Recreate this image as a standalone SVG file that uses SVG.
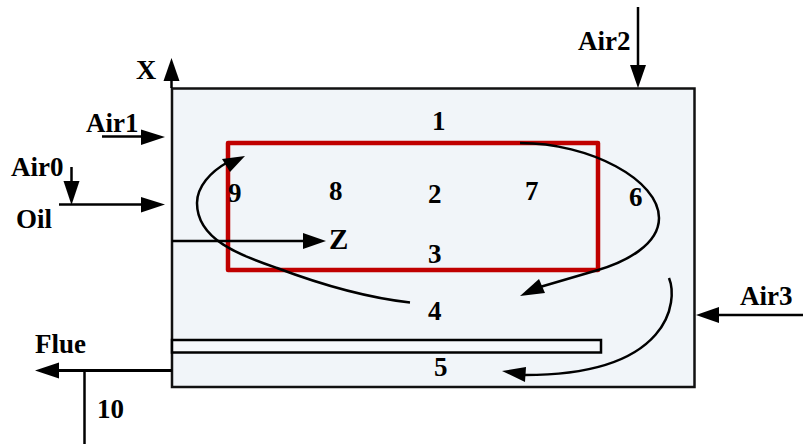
<svg xmlns="http://www.w3.org/2000/svg" width="803" height="444" viewBox="0 0 803 444">
<style>
text{font-family:"Liberation Serif","Times New Roman",serif;font-weight:bold;font-size:27px;fill:#000}
.l{fill:none;stroke:#000;stroke-width:2.500}
.f{fill:#000;stroke:none}
</style>
<rect width="803" height="444" fill="#fff"/>
<g id="furnace"><rect x="172" y="88.500" width="522.500" height="298.500" fill="#f1f5f9" stroke="#111" stroke-width="2.500"/></g>
<g id="tube"><rect x="172" y="340" width="429" height="12.500" fill="#f7f9fb" stroke="#000" stroke-width="2.500"/></g>
<g id="zone"><rect x="228" y="143" width="370" height="127" fill="none" stroke="#c00000" stroke-width="4.500" stroke-linejoin="round"/></g>
<g id="connectors">
<path class="l" d="M171.500 88V70"/><polygon class="f" points="171.500,58 163.500,81 179.500,81"/>
<path class="l" d="M102 136.500H145"/><polygon class="f" points="165,137 141,129.500 141,145"/>
<path class="l" d="M71.500 167V190"/><polygon class="f" points="71.500,205 63.500,181 79.500,181"/>
<path class="l" d="M59 204.500H145"/><polygon class="f" points="165,204.500 141,197 141,212.500"/>
<path class="l" d="M172 241H308"/><polygon class="f" points="326,241 303,233 303,249"/>
<path class="l" d="M638 7V70"/><polygon class="f" points="638,88 630,65 646,65"/>
<path class="l" d="M803 315H715"/><polygon class="f" points="696,315 719,307 719,323"/>
<path class="l" style="stroke-width:3" d="M172 370.500H50"/><polygon class="f" points="35,370.500 59,362.500 59,378.500"/>
<path class="l" d="M84.500 371V444"/>
<path class="l" d="M410 302.500C370 298 330 288 277 268C240 255 197 240 197 203C197 187 210 172 228 162"/><polygon class="f" points="245,156 222,159 230,172"/>
<path class="l" d="M520 143C590 143 659 180 659 218C659 245 625 262 598 270L540 287"/><polygon class="f" points="520,296 539,279 545,293"/>
<path class="l" d="M669 278C678 300 672 375 525 375"/><polygon class="f" points="502,371 526,367 525,382"/>
</g>
<g id="labels">
<text x="136" y="79" style="font-size:28px">X</text>
<text x="86" y="132">Air1</text>
<text x="11" y="176">Air0</text>
<text x="16" y="228">Oil</text>
<text x="578" y="50">Air2</text>
<text x="740" y="305">Air3</text>
<text x="35" y="353">Flue</text>
<text x="97" y="418">10</text>
<text x="329" y="249" style="font-size:29px">Z</text>
<text x="432" y="130">1</text>
<text x="428" y="203">2</text>
<text x="428" y="263">3</text>
<text x="428" y="320">4</text>
<text x="434" y="376">5</text>
<text x="629" y="206">6</text>
<text x="525" y="200">7</text>
<text x="329" y="200">8</text>
<text x="228" y="202">9</text>
</g>
</svg>
